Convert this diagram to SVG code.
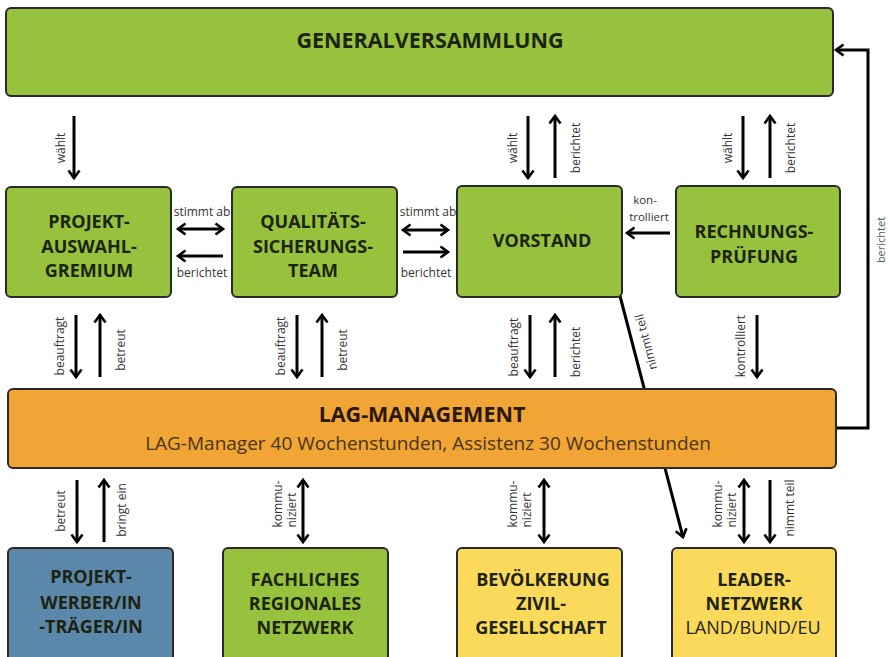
<svg xmlns="http://www.w3.org/2000/svg" width="889" height="657" viewBox="0 0 889 657">
<style>
.box{stroke:#2a2a2a;stroke-width:2}
.g{fill:#97c23d}
.o{fill:#f0a534}
.b{fill:#5b87ab}
.y{fill:#fad95b}
.h{font-family:"Open Sans","Liberation Sans",sans-serif;font-weight:bold;font-size:18px;fill:#1c2410;text-anchor:middle}
.t{font-family:"Open Sans","Liberation Sans",sans-serif;font-size:18px;fill:#1c2410;text-anchor:middle}
.l{font-family:"Open Sans","Liberation Sans",sans-serif;font-size:12px;fill:#333;text-anchor:middle}
.c{fill:none;stroke:#000;stroke-width:3}
.a{marker-end:url(#ah)}
.d{marker-start:url(#ah);marker-end:url(#ah)}
</style>
<defs>
<marker id="ah" viewBox="0 0 12 12" refX="9" refY="6" markerWidth="12" markerHeight="12" markerUnits="userSpaceOnUse" orient="auto-start-reverse" overflow="visible">
<path d="M1.5,0.5 L9,6 L1.5,11.5" fill="none" stroke="#000" stroke-width="2.6"/>
</marker>
</defs>
<rect width="889" height="657" fill="#fff"/>
<g id="connectors">
<line class="c a" x1="620" y1="296" x2="683" y2="537"/>
<line class="c a" x1="74" y1="116" x2="74" y2="178"/>
<line class="c a" x1="528" y1="116" x2="528" y2="178"/>
<line class="c a" x1="555" y1="178" x2="555" y2="116"/>
<line class="c a" x1="743" y1="116" x2="743" y2="178"/>
<line class="c a" x1="770" y1="178" x2="770" y2="116"/>
<line class="c d" x1="178" y1="229" x2="223" y2="229"/>
<line class="c a" x1="223" y1="256" x2="178" y2="256"/>
<line class="c d" x1="403" y1="230" x2="448" y2="230"/>
<line class="c a" x1="403" y1="252" x2="448" y2="252"/>
<line class="c a" x1="670" y1="233" x2="627" y2="233"/>
<line class="c a" x1="76" y1="315" x2="76" y2="377"/>
<line class="c a" x1="100" y1="377" x2="100" y2="315"/>
<line class="c a" x1="297" y1="315" x2="297" y2="377"/>
<line class="c a" x1="322" y1="377" x2="322" y2="315"/>
<line class="c a" x1="530" y1="315" x2="530" y2="377"/>
<line class="c a" x1="555" y1="377" x2="555" y2="315"/>
<line class="c a" x1="757" y1="315" x2="757" y2="377"/>
<line class="c a" x1="77" y1="480" x2="77" y2="542"/>
<line class="c a" x1="104" y1="542" x2="104" y2="480"/>
<line class="c d" x1="303" y1="480" x2="303" y2="542"/>
<line class="c d" x1="544" y1="480" x2="544" y2="542"/>
<line class="c d" x1="744" y1="480" x2="744" y2="542"/>
<line class="c a" x1="770" y1="480" x2="770" y2="542"/>
<polyline class="c a" points="836,428 868,428 868,50 836,50"/>
<text class="l" transform="translate(65,148) rotate(-90)">wählt</text>
<text class="l" transform="translate(517,148) rotate(-90)">wählt</text>
<text class="l" transform="translate(580,148) rotate(-90)">berichtet</text>
<text class="l" transform="translate(732,148) rotate(-90)">wählt</text>
<text class="l" transform="translate(795,148) rotate(-90)">berichtet</text>
<text class="l" x="202" y="216">stimmt ab</text>
<text class="l" x="202" y="277">berichtet</text>
<text class="l" x="428" y="216">stimmt ab</text>
<text class="l" x="426" y="277">berichtet</text>
<text class="l" x="645" y="204" style="font-size:11.5px">kon-</text>
<text class="l" x="649" y="221" style="font-size:11.5px">trolliert</text>
<text class="l" transform="translate(64,346) rotate(-90)">beauftragt</text>
<text class="l" transform="translate(125,350) rotate(-90)">betreut</text>
<text class="l" transform="translate(285,346) rotate(-90)">beauftragt</text>
<text class="l" transform="translate(347,350) rotate(-90)">betreut</text>
<text class="l" transform="translate(518,347) rotate(-90)">beauftragt</text>
<text class="l" transform="translate(580,352) rotate(-90)">berichtet</text>
<text class="l" transform="translate(745,346) rotate(-90)">kontrolliert</text>
<text class="l" transform="translate(650,341) rotate(-104.7)">nimmt teil</text>
<text class="l" transform="translate(65,511) rotate(-90)">betreut</text>
<text class="l" transform="translate(126,510) rotate(-90)">bringt ein</text>
<text class="l" transform="translate(282,504) rotate(-90)">kommu-</text>
<text class="l" transform="translate(296,510) rotate(-90)">niziert</text>
<text class="l" transform="translate(517,504) rotate(-90)">kommu-</text>
<text class="l" transform="translate(531,510) rotate(-90)">niziert</text>
<text class="l" transform="translate(722,504) rotate(-90)">kommu-</text>
<text class="l" transform="translate(736,510) rotate(-90)">niziert</text>
<text class="l" transform="translate(794,508) rotate(-90)">nimmt teil</text>
<text class="l" transform="translate(885,240) rotate(-90)" style="font-size:11px;fill:#555">berichtet</text>
</g>
<g id="generalversammlung">
<rect class="box g" x="6" y="8" width="827" height="88" rx="5"/>
<text class="h" x="430" y="48" style="font-size:21.5px">GENERALVERSAMMLUNG</text>
</g>
<g id="projektauswahlgremium">
<rect class="box g" x="6" y="187" width="165" height="110" rx="5"/>
<text class="h" x="89" y="228">PROJEKT-</text>
<text class="h" x="89" y="253">AUSWAHL-</text>
<text class="h" x="89" y="277">GREMIUM</text>
</g>
<g id="qualitaetssicherungsteam">
<rect class="box g" x="232" y="187" width="165" height="110" rx="5"/>
<text class="h" x="313" y="228">QUALITÄTS-</text>
<text class="h" x="313" y="253">SICHERUNGS-</text>
<text class="h" x="313" y="277">TEAM</text>
</g>
<g id="vorstand">
<rect class="box g" x="457" y="186" width="165" height="111" rx="5"/>
<text class="h" x="542" y="247">VORSTAND</text>
</g>
<g id="rechnungspruefung">
<rect class="box g" x="676" y="186" width="164" height="111" rx="5"/>
<text class="h" x="754" y="238">RECHNUNGS-</text>
<text class="h" x="754" y="263">PRÜFUNG</text>
</g>
<g id="lagmanagement">
<rect class="box o" x="8" y="389" width="828" height="79" rx="5"/>
<text class="h" x="422" y="422" style="font-size:21.5px;fill:#2a180a">LAG-MANAGEMENT</text>
<text class="t" x="428" y="450" style="font-size:19px;fill:#4a3418">LAG-Manager 40 Wochenstunden, Assistenz 30 Wochenstunden</text>
</g>
<g id="projektwerber">
<rect class="box b" x="8" y="548" width="165" height="125" rx="5"/>
<text class="h" x="91" y="583">PROJEKT-</text>
<text class="h" x="91" y="609">WERBER/IN</text>
<text class="h" x="91" y="633">-TRÄGER/IN</text>
</g>
<g id="fachlichesnetzwerk">
<rect class="box g" x="223" y="548" width="165" height="125" rx="5"/>
<text class="h" x="305" y="586">FACHLICHES</text>
<text class="h" x="305" y="610">REGIONALES</text>
<text class="h" x="305" y="634">NETZWERK</text>
</g>
<g id="bevoelkerung">
<rect class="box y" x="457" y="548" width="165" height="125" rx="5"/>
<text class="h" x="543" y="586">BEVÖLKERUNG</text>
<text class="h" x="541" y="610">ZIVIL-</text>
<text class="h" x="541" y="634">GESELLSCHAFT</text>
</g>
<g id="leadernetzwerk">
<rect class="box y" x="672" y="548" width="164" height="125" rx="5"/>
<text class="h" x="754" y="586">LEADER-</text>
<text class="h" x="754" y="610">NETZWERK</text>
<text class="t" x="753" y="634">LAND/BUND/EU</text>
</g>
</svg>
